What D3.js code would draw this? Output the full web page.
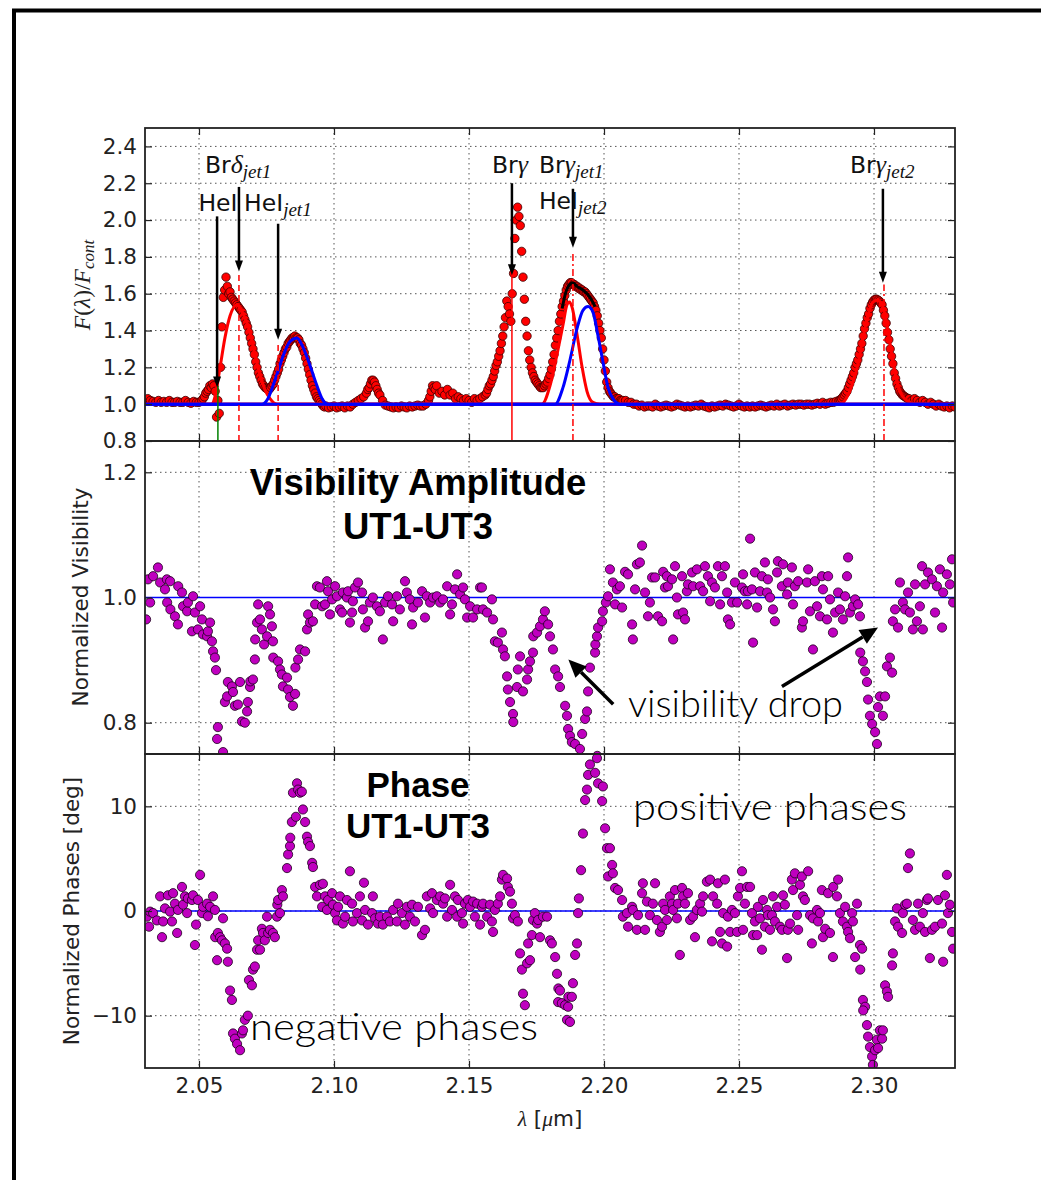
<!DOCTYPE html>
<html lang="en">
  <head>
    <meta charset="UTF-8" />
    <title>Spectrum, visibility and phase UT1-UT3</title>
    <script src="https://d3js.org/d3.v7.min.js"></script>
    <style>
      body { margin: 0; background: #fff; }
    </style>
  </head>
  <body>
    <script>
      // ---- data ----
      // normalised flux F(lambda)/F_cont : [lambda (um), flux]
      var specPoints = [
        [2.030,1.02],[2.031,1.03],[2.032,1.02],[2.033,1.015],[2.034,1.01],[2.035,1.02],[2.036,1.01],[2.037,1.015],[2.038,1.01],[2.039,1.02],[2.040,1.01],[2.041,1.01],[2.042,1.015],[2.043,1.01],[2.044,1.01],[2.045,1.02],[2.046,1.01],[2.047,1.005],[2.048,1.015],[2.049,1.01],[2.050,1.01],[2.051,1.02],
        [2.0515,1.03],[2.0520,1.04],[2.0525,1.06],[2.0530,1.07],[2.0535,1.08],[2.0540,1.10],[2.0545,1.09],[2.0550,1.11],[2.0555,1.10],[2.0560,1.07],[2.0565,0.93],[2.0570,1.02],[2.0575,0.95],[2.0580,1.20],[2.0585,1.42],[2.0590,1.58],[2.0595,1.62],[2.0600,1.69],[2.0605,1.64],[2.0610,1.60],[2.0615,1.61],[2.0620,1.58],[2.0625,1.57],[2.0630,1.56],[2.0635,1.55],[2.0640,1.54],[2.0645,1.53],[2.0650,1.52],[2.0655,1.51],[2.0660,1.50],[2.0665,1.48],[2.0670,1.46],[2.0675,1.44],[2.0680,1.42],[2.0685,1.39],[2.0690,1.36],[2.0695,1.33],[2.0700,1.30],[2.0705,1.27],[2.0710,1.23],[2.0715,1.20],[2.0720,1.17],[2.0725,1.15],[2.0730,1.13],[2.0735,1.11],[2.0740,1.10],[2.0745,1.09],[2.0750,1.085],[2.0755,1.08],[2.0760,1.08],[2.0765,1.09],[2.0770,1.10],[2.0775,1.11],[2.0780,1.13],[2.0785,1.15],[2.0790,1.17],[2.0795,1.19],[2.0800,1.22],[2.0805,1.24],[2.0810,1.26],[2.0815,1.28],[2.0820,1.30],[2.0825,1.31],[2.0830,1.33],[2.0835,1.34],[2.0840,1.35],[2.0845,1.36],[2.0850,1.36],[2.0855,1.37],[2.0860,1.36],[2.0865,1.36],[2.0870,1.35],[2.0875,1.33],[2.0880,1.32],[2.0885,1.30],[2.0890,1.28],[2.0895,1.25],[2.0900,1.22],[2.0905,1.19],[2.0910,1.16],[2.0915,1.13],[2.0920,1.10],[2.0925,1.08],[2.0930,1.06],[2.0935,1.04],[2.0940,1.03],[2.0945,1.02],[2.0950,1.01],[2.0955,1.00],[2.0960,0.99],[2.0965,0.985],[2.0970,0.99],
        [2.098,0.98],[2.099,0.985],[2.100,0.99],[2.101,0.98],[2.102,0.985],[2.103,0.99],[2.104,0.98],[2.105,0.99],[2.106,0.985],[2.107,1.00],[2.108,1.01],[2.109,1.02],[2.110,1.03],[2.111,1.04],[2.112,1.06],[2.1125,1.08],[2.113,1.09],[2.1135,1.11],[2.114,1.13],[2.1145,1.13],[2.115,1.12],[2.1155,1.10],[2.116,1.08],[2.1165,1.06],[2.117,1.05],[2.118,1.02],[2.119,0.995],[2.120,0.99],[2.121,0.985],[2.122,0.98],[2.123,0.985],[2.124,0.98],[2.125,0.99],[2.126,0.985],[2.127,0.98],[2.128,0.99],[2.129,0.985],[2.130,0.99],[2.131,0.995],[2.132,0.99],[2.133,0.99],[2.134,1.00],[2.135,1.02],[2.1355,1.04],[2.136,1.07],[2.1365,1.10],[2.137,1.09],[2.1375,1.08],[2.138,1.10],[2.139,1.06],[2.140,1.07],[2.141,1.05],[2.142,1.08],[2.143,1.05],[2.144,1.06],[2.145,1.03],[2.146,1.04],[2.147,1.03],[2.148,1.02],[2.149,1.03],[2.150,1.02],[2.151,1.01],[2.152,1.03],[2.153,1.02],[2.154,1.03],[2.155,1.04],[2.156,1.05],
        [2.1565,1.06],[2.1570,1.08],[2.1575,1.10],[2.1580,1.11],[2.1585,1.13],[2.1590,1.15],[2.1595,1.18],[2.1600,1.21],[2.1605,1.23],[2.1610,1.26],[2.1615,1.29],[2.1620,1.33],[2.1625,1.37],[2.1630,1.42],[2.1635,1.47],[2.1640,1.56],[2.1645,1.53],[2.1650,1.49],[2.1655,1.45],[2.1660,1.60],[2.1665,1.71],[2.1670,1.90],[2.1675,2.00],[2.1680,2.07],[2.1685,2.02],[2.1690,1.97],[2.1695,1.83],[2.1700,1.69],[2.1705,1.57],[2.1710,1.45],[2.1715,1.37],[2.1720,1.29],[2.1725,1.24],[2.1730,1.20],[2.1735,1.17],[2.1740,1.15],[2.1745,1.13],[2.1750,1.12],[2.1755,1.11],[2.1760,1.10],[2.1765,1.09],[2.1770,1.09],[2.1775,1.09],[2.1780,1.10],[2.1785,1.11],[2.1790,1.12],[2.1795,1.14],[2.1800,1.16],[2.1805,1.19],[2.1810,1.23],[2.1815,1.27],[2.1820,1.32],[2.1825,1.36],[2.1830,1.40],[2.1835,1.45],[2.1840,1.49],[2.1845,1.53],[2.1850,1.56],[2.1855,1.59],[2.1860,1.62],[2.1865,1.64],[2.1870,1.65],[2.1875,1.66],[2.1880,1.66],[2.1885,1.65],[2.1890,1.65],[2.1895,1.64],[2.1900,1.64],[2.1905,1.63],[2.1910,1.63],[2.1915,1.62],[2.1920,1.62],[2.1925,1.61],[2.1930,1.61],[2.1935,1.60],[2.1940,1.59],[2.1945,1.58],[2.1950,1.57],[2.1955,1.56],[2.1960,1.55],[2.1965,1.53],[2.1970,1.51],[2.1975,1.48],[2.1980,1.44],[2.1985,1.40],[2.1990,1.36],[2.1995,1.30],[2.2000,1.24],[2.2005,1.18],[2.2010,1.12],[2.2015,1.09],[2.2020,1.07],[2.2025,1.06],[2.2030,1.05],[2.2035,1.04],[2.2040,1.04],[2.2045,1.03],[2.2050,1.03],[2.2055,1.03],[2.2060,1.02],[2.2065,1.02],[2.2070,1.02],
        [2.208,1.02],[2.209,1.01],[2.210,1.01],[2.211,1.00],[2.212,1.00],[2.213,0.99],[2.214,0.995],[2.215,0.985],[2.216,0.99],[2.217,0.99],[2.218,0.985],[2.219,1.00],[2.220,0.99],[2.221,0.985],[2.222,0.99],[2.223,0.995],[2.224,0.99],[2.225,0.985],[2.226,0.99],[2.227,1.00],[2.228,0.995],[2.229,0.99],[2.230,0.985],[2.231,0.99],[2.232,0.985],[2.233,0.99],[2.234,0.995],[2.235,0.99],[2.236,1.00],[2.237,0.99],[2.238,0.985],[2.239,0.98],[2.240,0.99],[2.241,0.985],[2.242,0.99],[2.243,0.995],[2.244,0.99],[2.245,1.00],[2.246,0.995],[2.247,0.99],[2.248,0.985],[2.249,0.99],[2.250,1.00],[2.251,0.99],[2.252,0.985],[2.253,0.99],[2.254,0.985],[2.255,0.99],[2.256,0.985],[2.257,0.99],[2.258,0.995],[2.259,0.99],[2.260,0.985],[2.261,0.99],[2.262,0.995],[2.263,0.99],[2.264,1.00],[2.265,0.99],[2.266,0.995],[2.267,1.00],[2.268,0.99],[2.269,0.995],[2.270,1.00],[2.271,0.995],[2.272,1.00],[2.273,1.00],[2.274,0.995],[2.275,1.00],[2.276,1.00],[2.277,0.995],[2.278,1.00],[2.279,1.005],[2.280,1.00],[2.281,1.01],[2.282,1.00],[2.283,1.005],[2.284,1.01],[2.285,1.01],[2.286,1.015],[2.287,1.02],
        [2.2875,1.025],[2.2880,1.03],[2.2885,1.04],[2.2890,1.05],[2.2895,1.06],[2.2900,1.07],[2.2905,1.09],[2.2910,1.11],[2.2915,1.13],[2.2920,1.15],[2.2925,1.17],[2.2930,1.20],[2.2935,1.22],[2.2940,1.24],[2.2945,1.27],[2.2950,1.30],[2.2955,1.33],[2.2960,1.37],[2.2965,1.41],[2.2970,1.44],[2.2975,1.47],[2.2980,1.49],[2.2985,1.52],[2.2990,1.54],[2.2995,1.555],[2.3000,1.565],[2.3005,1.57],[2.3010,1.57],[2.3015,1.565],[2.3020,1.56],[2.3025,1.55],[2.3030,1.54],[2.3035,1.51],[2.3040,1.48],[2.3045,1.44],[2.3050,1.39],[2.3055,1.35],[2.3060,1.30],[2.3065,1.26],[2.3070,1.22],[2.3075,1.17],[2.3080,1.14],[2.3085,1.11],[2.3090,1.09],[2.3095,1.07],[2.3100,1.06],[2.3105,1.05],[2.3110,1.045],[2.3115,1.04],[2.3120,1.035],[2.3125,1.03],
        [2.313,1.03],[2.314,1.02],[2.315,1.03],[2.316,1.02],[2.317,1.01],[2.318,1.02],[2.319,1.01],[2.320,1.00],[2.321,1.01],[2.322,1.00],[2.323,0.99],[2.324,1.00],[2.325,0.99],[2.326,0.985],[2.327,0.99],[2.328,0.98],[2.329,0.99],[2.330,0.985]
      ];

      // fitted line components
      var fitBrdJet1 = [[2.030,1.0],[2.0548,1.0],[2.0559,1.04],[2.0578,1.2],[2.0596,1.36],[2.0615,1.48],[2.0641,1.54],[2.0670,1.47],[2.0689,1.39],[2.0707,1.27],[2.0726,1.16],[2.0744,1.08],[2.0763,1.03],[2.0789,1.0],[2.330,1.0]];
      var fitBrgJet1 = [[2.030,1.0],[2.1770,1.0],[2.1800,1.1],[2.1826,1.27],[2.1848,1.43],[2.1863,1.54],[2.1872,1.555],[2.1881,1.53],[2.1900,1.38],[2.1919,1.2],[2.1937,1.07],[2.1959,1.01],[2.1985,1.0],[2.330,1.0]];
      var fitBrgJet2 = [[2.030,1.0],[2.2874,1.0],[2.2904,1.05],[2.2922,1.12],[2.2941,1.22],[2.2959,1.36],[2.2978,1.48],[2.2993,1.55],[2.3011,1.565],[2.3030,1.54],[2.3044,1.46],[2.3059,1.33],[2.3074,1.2],[2.3089,1.1],[2.3107,1.04],[2.3133,1.01],[2.3163,1.0],[2.330,1.0]];
      var fitHeIJet1 = [[2.030,1.0],[2.0733,1.0],[2.0755,1.03],[2.0774,1.1],[2.0793,1.18],[2.0811,1.26],[2.0837,1.34],[2.0863,1.36],[2.0885,1.31],[2.0911,1.21],[2.0937,1.1],[2.0956,1.03],[2.0978,1.0],[2.330,1.0]];
      var fitHeIJet2 = [[2.030,1.0],[2.1819,1.0],[2.1848,1.09],[2.1874,1.24],[2.1900,1.41],[2.1922,1.51],[2.1941,1.53],[2.1959,1.5],[2.1978,1.37],[2.1996,1.23],[2.2015,1.09],[2.2033,1.03],[2.2059,1.0],[2.330,1.0]];
      var fitTotal = [[2.1845,1.52],[2.1859,1.61],[2.1870,1.645],[2.1885,1.66],[2.1900,1.64],[2.1922,1.62],[2.1948,1.58],[2.1967,1.53]];

      // normalised visibility UT1-UT3 : [lambda, V]
      var visPoints = [
        [2.0304,0.965],[2.0311,1.029],[2.0319,0.992],[2.0330,1.034],[2.0348,1.048],[2.0356,1.024],[2.0374,1.013],[2.0381,1.029],[2.0393,1.026],[2.0382,0.992],[2.0394,0.981],[2.0411,0.970],[2.0422,0.957],[2.0423,1.018],[2.0437,1.008],[2.0441,0.986],[2.0456,0.978],[2.0459,0.992],[2.0474,0.946],[2.0478,1.002],[2.0485,0.976],[2.0496,0.949],[2.0504,0.986],[2.0511,0.965],[2.0515,0.941],[2.0530,0.938],[2.0533,0.946],[2.0541,0.960],[2.0548,0.930],[2.0552,0.914],[2.0559,0.904],[2.0563,0.884],[2.0570,0.793],[2.0567,0.774],[2.0589,0.753],[2.0596,0.833],[2.0604,0.842],[2.0607,0.865],[2.0622,0.858],[2.0626,0.849],[2.0633,0.827],[2.0644,0.829],[2.0652,0.865],[2.0659,0.802],[2.0670,0.800],[2.0678,0.818],[2.0681,0.833],[2.0689,0.857],[2.0690,0.866],[2.0700,0.869],[2.0707,0.901],[2.0708,0.933],[2.0715,0.960],[2.0719,0.989],[2.0726,0.965],[2.0733,0.949],[2.0741,0.925],[2.0752,0.938],[2.0756,0.986],[2.0763,0.973],[2.0770,0.954],[2.0774,0.930],[2.0775,0.904],[2.0793,0.898],[2.0800,0.885],[2.0807,0.877],[2.0811,0.858],[2.0826,0.872],[2.0830,0.853],[2.0837,0.841],[2.0848,0.827],[2.0856,0.846],[2.0857,0.888],[2.0867,0.901],[2.0874,0.917],[2.0893,0.914],[2.0900,0.949],[2.0904,0.973],[2.0911,0.960],[2.0922,0.962],[2.0930,0.989],[2.0937,1.018],[2.0948,1.016],[2.0956,0.986],[2.0967,0.989],[2.0974,1.026],[2.0978,1.010],[2.0985,0.973],[2.0993,0.997],[2.1004,1.018],[2.1011,1.002],[2.1022,0.981],[2.1030,0.976],[2.1033,1.008],[2.1048,1.000],[2.1052,1.010],[2.1059,0.960],[2.1067,0.976],[2.1070,0.994],[2.1078,1.016],[2.1089,1.024],[2.1104,1.008],[2.1107,0.981],[2.1115,0.952],[2.1126,0.962],[2.1133,0.992],[2.1144,1.000],[2.1159,0.986],[2.1170,0.978],[2.1181,0.933],[2.1189,0.992],[2.1200,1.002],[2.1215,0.989],[2.1219,0.962],[2.1233,1.002],[2.1244,0.981],[2.1263,1.026],[2.1270,1.008],[2.1281,0.997],[2.1289,0.957],[2.1293,0.984],[2.1311,0.992],[2.1326,1.010],[2.1337,0.968],[2.1344,1.002],[2.1356,0.992],[2.1367,1.000],[2.1381,1.002],[2.1393,0.992],[2.1404,0.997],[2.1419,1.018],[2.1430,0.973],[2.1437,0.989],[2.1448,1.013],[2.1456,1.037],[2.1467,1.005],[2.1478,1.016],[2.1485,0.997],[2.1493,0.968],[2.1504,0.986],[2.1515,0.968],[2.1530,0.981],[2.1541,1.016],
        [2.1548,1.016],[2.1552,0.981],[2.1567,0.976],[2.1585,0.997],[2.1589,0.965],[2.1596,0.930],[2.1607,0.928],[2.1622,0.944],[2.1626,0.917],[2.1633,0.906],[2.1641,0.874],[2.1644,0.853],[2.1652,0.833],[2.1663,0.814],[2.1664,0.801],[2.1678,0.857],[2.1681,0.885],[2.1689,0.906],[2.1700,0.850],[2.1715,0.869],[2.1719,0.885],[2.1726,0.898],[2.1737,0.912],[2.1738,0.938],[2.1752,0.944],[2.1763,0.954],[2.1774,0.965],[2.1781,0.978],[2.1793,0.957],[2.1800,0.938],[2.1811,0.917],[2.1819,0.885],[2.1830,0.874],[2.1837,0.857],[2.1856,0.827],[2.1863,0.811],[2.1867,0.790],[2.1874,0.779],[2.1881,0.769],[2.1893,0.766],[2.1911,0.758],[2.1919,0.782],[2.1930,0.806],[2.1937,0.818],[2.1941,0.850],[2.1948,0.888],[2.1967,0.912],[2.1968,0.925],[2.1974,0.938],[2.1978,0.952],[2.1975,0.747],[2.1993,0.962],[2.1996,0.978],[2.2007,0.992],[2.2015,1.002],[2.2022,1.045],[2.2033,1.024],[2.2041,0.989],[2.2048,1.013],[2.2059,1.018],[2.2067,0.984],[2.2078,1.041],[2.2089,1.037],[2.2104,0.957],[2.2107,0.933],[2.2115,1.013],[2.2122,1.053],[2.2133,1.056],[2.2141,1.083],[2.2152,1.008],[2.2163,0.970],[2.2170,0.992],[2.2178,1.032],[2.2189,1.032],[2.2200,0.970],[2.2215,0.962],[2.2219,1.041],[2.2226,1.016],[2.2233,1.034],[2.2237,1.018],[2.2252,1.029],[2.2256,0.933],[2.2263,1.050],[2.2270,1.000],[2.2274,0.973],[2.2289,1.034],[2.2293,0.976],[2.2300,0.965],[2.2307,1.010],[2.2311,1.021],[2.2326,1.040],[2.2330,1.018],[2.2344,1.045],[2.2356,1.018],[2.2367,1.010],[2.2374,1.050],[2.2385,1.034],[2.2393,0.994],[2.2400,1.024],[2.2411,1.016],[2.2422,1.050],[2.2430,0.989],[2.2437,1.034],[2.2448,1.050],[2.2456,1.008],[2.2459,0.965],[2.2467,0.957],[2.2474,0.992],[2.2485,1.024],[2.2493,0.992],[2.2511,1.016],[2.2515,1.037],[2.2522,1.010],[2.2530,0.989],[2.2533,1.010],[2.2541,1.094],[2.2548,1.013],[2.2552,0.928],[2.2559,1.040],[2.2567,0.984],[2.2578,1.010],[2.2585,1.034],[2.2596,1.056],[2.2604,1.008],[2.2607,1.029],[2.2615,1.000],[2.2626,0.981],[2.2633,0.962],[2.2641,1.040],[2.2644,1.058],[2.2659,1.018],[2.2663,1.053],[2.2678,1.005],[2.2681,1.024],[2.2696,1.048],[2.2700,0.989],[2.2707,1.018],[2.2719,1.026],[2.2733,0.952],[2.2737,0.962],[2.2752,1.024],[2.2756,1.045],[2.2763,0.978],[2.2774,0.917],[2.2781,1.026],[2.2789,0.986],[2.2800,0.970],[2.2807,1.034],[2.2811,1.013],[2.2826,0.965],[2.2830,1.034],[2.2837,0.997],[2.2848,0.944],[2.2856,0.976],[2.2867,1.008],[2.2874,0.981],[2.2885,0.965],[2.2893,1.002],[2.2900,1.034],[2.2904,1.064],[2.2911,0.976],[2.2922,0.986],[2.2930,0.997],[2.2941,0.989],[2.2948,0.970],[2.2949,0.912],[2.2959,0.898],[2.2967,0.882],[2.2974,0.865],[2.2978,0.837],[2.2985,0.811],[2.2993,0.798],[2.3004,0.785],[2.3011,0.766],[2.3015,0.825],[2.3022,0.842],[2.3033,0.811],[2.3041,0.842],[2.3048,0.890],[2.3059,0.904],[2.3067,0.880],[2.3070,0.962],[2.3078,0.981],[2.3089,0.952],[2.3096,1.024],[2.3107,0.992],[2.3115,0.981],[2.3126,1.008],[2.3133,0.976],[2.3144,0.949],[2.3152,1.021],[2.3159,0.962],[2.3170,0.986],[2.3178,1.050],[2.3181,0.949],[2.3189,1.021],[2.3200,1.040],[2.3215,1.029],[2.3226,0.976],[2.3233,1.018],[2.3244,1.045],[2.3252,0.952],[2.3256,1.008],[2.3270,1.037],[2.3281,1.021],[2.3289,1.061],[2.3293,0.992]
      ];

      // normalised differential phase UT1-UT3 : [lambda, deg]
      var phasePoints = [
        [2.0307,-0.54],[2.0315,-1.5],[2.0319,-0.06],[2.0330,-0.2],[2.0344,-0.9],[2.0356,1.4],[2.0363,-2.5],[2.0367,-1.0],[2.0374,0.25],[2.0385,1.5],[2.0393,-0.06],[2.0400,-1.0],[2.0404,1.7],[2.0411,0.7],[2.0419,-2.1],[2.0422,0.1],[2.0437,2.3],[2.0441,0.6],[2.0448,1.4],[2.0456,-0.2],[2.0459,1.2],[2.0474,1.05],[2.0478,1.5],[2.0485,-3.25],[2.0489,-1.3],[2.0496,1.05],[2.0504,3.45],[2.0511,-0.2],[2.0515,0.4],[2.0530,0.7],[2.0533,-0.5],[2.0541,0.4],[2.0552,1.4],[2.0559,0.1],[2.0560,-2.5],[2.0567,-4.7],[2.0570,-2.1],[2.0578,-2.5],[2.0585,-2.8],[2.0589,-0.7],[2.0596,-3.1],[2.0604,-3.6],[2.0607,-4.85],[2.0615,-7.6],[2.0622,-8.5],[2.0626,-11.7],[2.0633,-12.2],[2.0641,-12.7],[2.0652,-13.3],[2.0659,-11.7],[2.0663,-11.4],[2.0670,-10.4],[2.0681,-10.0],[2.0685,-6.6],[2.0696,-7.1],[2.0700,-5.6],[2.0707,-5.3],[2.0715,-3.7],[2.0719,-2.8],[2.0726,-3.7],[2.0733,-1.7],[2.0737,-2.1],[2.0744,-2.8],[2.0752,-0.54],[2.0756,-2.1],[2.0763,-1.8],[2.0774,-2.1],[2.0781,-2.5],[2.0789,-0.54],[2.0790,0.6],[2.0793,1.05],[2.0800,-0.2],[2.0807,2.0],[2.0811,1.4],[2.0826,4.1],[2.0830,5.4],[2.0837,6.2],[2.0838,7.0],[2.0844,8.5],[2.0848,11.3],[2.0859,9.0],[2.0863,12.2],[2.0867,11.6],[2.0874,11.3],[2.0881,11.4],[2.0885,9.7],[2.0893,8.5],[2.0900,7.1],[2.0904,6.6],[2.0911,6.2],[2.0919,4.6],[2.0922,4.2],[2.0930,2.3],[2.0937,1.4],[2.0948,2.5],[2.0956,0.4],[2.0959,2.6],[2.0967,1.4],[2.0974,0.1],[2.0978,1.05],[2.0993,1.7],[2.0996,0.6],[2.1004,-0.2],[2.1011,-0.9],[2.1015,0.4],[2.1022,1.4],[2.1033,-1.2],[2.1041,-0.54],[2.1048,1.05],[2.1059,3.8],[2.1067,0.7],[2.1070,-1.0],[2.1085,-0.2],[2.1096,1.4],[2.1104,-0.9],[2.1111,2.7],[2.1115,0.1],[2.1126,-1.3],[2.1141,-0.2],[2.1144,1.4],[2.1152,-0.7],[2.1163,-1.2],[2.1170,-0.54],[2.1181,-1.3],[2.1196,-0.54],[2.1207,-1.0],[2.1219,0.1],[2.1233,-1.0],[2.1237,0.7],[2.1252,-0.2],[2.1263,-1.3],[2.1270,0.4],[2.1281,-0.54],[2.1289,0.6],[2.1300,-1.0],[2.1311,0.4],[2.1326,-2.3],[2.1337,-1.8],[2.1344,1.4],[2.1356,0.25],[2.1363,1.7],[2.1367,-0.2],[2.1381,1.05],[2.1393,1.4],[2.1404,0.7],[2.1411,1.2],[2.1419,-0.54],[2.1430,2.5],[2.1437,0.1],[2.1448,1.4],[2.1456,-0.54],[2.1459,1.05],[2.1474,-0.2],[2.1478,-1.2],[2.1485,0.7],[2.1496,1.05],[2.1504,0.4],[2.1515,0.9],[2.1522,-0.54],[2.1530,0.7],[2.1541,-1.3],[2.1548,0.4],[2.1552,0.7],[2.1567,-0.54],[2.1578,0.6],[2.1585,-1.0],[2.1589,-2.0],[2.1596,0.1],[2.1607,0.7],[2.1615,1.4],[2.1622,3.0],[2.1626,3.45],[2.1641,3.1],[2.1644,2.3],[2.1652,1.85],[2.1659,0.7],[2.1663,-0.7],[2.1670,-0.4],[2.1681,-1.0],[2.1689,-4.05],[2.1696,-5.6],[2.1700,-7.9],[2.1707,-9.0],[2.1715,-5.0],[2.1719,-3.1],[2.1726,-4.7],[2.1733,-2.3],[2.1737,-0.86],[2.1744,-0.2],[2.1752,-1.2],[2.1756,-0.86],[2.1763,-2.5],[2.1774,-0.54],[2.1789,-0.54],[2.1800,-2.8],[2.1807,-3.1],[2.1819,-4.4],[2.1826,-6.0],[2.1830,-8.7],[2.1831,-7.4],
        [2.1837,-7.6],[2.1844,-8.8],[2.1856,-9.0],[2.1867,-9.15],[2.1863,-10.4],[2.1874,-10.6],[2.1868,-8.2],[2.1881,-8.2],[2.1885,-6.9],[2.1893,-4.2],[2.1900,-3.1],[2.1904,-0.2],[2.1907,1.2],[2.1915,3.9],[2.1922,7.4],[2.1930,10.6],[2.1937,11.6],[2.1941,13.0],[2.1948,14.0],[2.1956,15.7],[2.1967,13.2],[2.1974,14.6],[2.1978,12.2],[2.1993,10.5],[2.1996,11.9],[2.2004,7.9],[2.2011,6.0],[2.2015,3.3],[2.2022,6.0],[2.2030,4.4],[2.2033,3.6],[2.2041,2.2],[2.2052,2.0],[2.2067,1.05],[2.2070,-0.54],[2.2085,-0.2],[2.2089,-1.5],[2.2104,0.4],[2.2107,0.1],[2.2122,-1.8],[2.2126,-0.4],[2.2141,1.7],[2.2144,2.65],[2.2152,-1.8],[2.2159,0.9],[2.2170,-0.4],[2.2181,0.7],[2.2189,2.65],[2.2196,-0.86],[2.2207,-2.0],[2.2215,-1.5],[2.2219,0.7],[2.2226,0.1],[2.2233,-0.86],[2.2244,1.4],[2.2252,0.7],[2.2256,0.1],[2.2263,2.0],[2.2270,-0.7],[2.2274,0.7],[2.2281,-4.2],[2.2289,2.2],[2.2293,1.4],[2.2300,0.7],[2.2311,1.7],[2.2319,-0.86],[2.2330,-0.54],[2.2337,-2.5],[2.2344,0.1],[2.2356,0.7],[2.2363,-0.06],[2.2367,1.4],[2.2381,2.8],[2.2393,3.0],[2.2400,-2.9],[2.2404,1.4],[2.2419,0.7],[2.2422,2.65],[2.2430,-2.0],[2.2437,-3.1],[2.2441,-0.2],[2.2448,3.0],[2.2456,-3.4],[2.2459,-0.54],[2.2467,-2.0],[2.2474,0.1],[2.2485,-0.2],[2.2493,-2.0],[2.2496,1.4],[2.2504,2.2],[2.2511,3.8],[2.2515,-1.8],[2.2522,0.7],[2.2530,2.3],[2.2541,2.3],[2.2548,-0.2],[2.2552,-2.3],[2.2559,-1.0],[2.2567,-2.3],[2.2570,0.4],[2.2578,-0.7],[2.2585,-3.7],[2.2589,1.05],[2.2596,-1.5],[2.2604,0.1],[2.2607,-0.4],[2.2615,-1.8],[2.2622,-0.4],[2.2626,1.4],[2.2633,-1.0],[2.2641,0.4],[2.2652,-1.5],[2.2659,-1.8],[2.2663,1.5],[2.2670,0.6],[2.2678,-4.5],[2.2681,-1.8],[2.2689,-1.2],[2.2696,3.0],[2.2700,2.0],[2.2707,3.6],[2.2715,-0.4],[2.2719,-1.8],[2.2726,2.5],[2.2733,3.3],[2.2737,1.4],[2.2744,1.05],[2.2756,3.8],[2.2763,-0.4],[2.2770,-3.1],[2.2774,-0.7],[2.2789,0.1],[2.2793,-1.0],[2.2800,-0.2],[2.2807,2.0],[2.2811,-2.5],[2.2819,-1.7],[2.2830,1.7],[2.2837,-2.1],[2.2848,-4.4],[2.2849,2.3],[2.2863,1.4],[2.2867,3.0],[2.2874,-0.2],[2.2885,-1.0],[2.2893,0.4],[2.2900,-1.5],[2.2904,-2.0],[2.2911,-2.6],[2.2919,-0.2],[2.2922,-1.0],[2.2930,-4.4],[2.2937,0.7],[2.2948,-3.25],[2.2956,-3.6],[2.2949,-5.6],[2.2959,-8.5],[2.2967,-9.15],[2.2960,-9.5],[2.2974,-10.9],[2.2978,-12.0],[2.2985,-13.0],[2.2993,-13.9],[2.2996,-14.7],[2.3004,-13.3],[2.3011,-12.3],[2.3015,-13.1],[2.3022,-11.4],[2.3030,-12.2],[2.3033,-11.4],[2.3041,-7.1],[2.3048,-7.7],[2.3052,-8.2],[2.3067,-5.2],[2.3070,-4.05],[2.3078,-1.0],[2.3085,0.25],[2.3089,-1.5],[2.3104,-2.1],[2.3107,-0.2],[2.3115,0.6],[2.3122,0.7],[2.3126,4.1],[2.3133,5.5],[2.3144,-0.86],[2.3152,-1.8],[2.3163,0.7],[2.3170,-1.5],[2.3181,-0.2],[2.3189,-2.0],[2.3196,1.05],[2.3200,1.2],[2.3207,-4.5],[2.3215,-1.8],[2.3226,-1.5],[2.3237,1.05],[2.3252,-1.2],[2.3256,-4.85],[2.3263,1.5],[2.3270,3.45],[2.3274,-0.2],[2.3281,0.6],[2.3289,-2.0],[2.3293,-3.6]
      ];

      var xTickValues = [2.05, 2.10, 2.15, 2.20, 2.25, 2.30];
      var fluxTickValues = [0.8, 1.0, 1.2, 1.4, 1.6, 1.8, 2.0, 2.2, 2.4];
      var visTickValues = [0.8, 1.0, 1.2];
      var phaseTickValues = [-10, 0, 10];

      // line identifications: rest / jet wavelengths and arrow extents
      var lineMarks = [
        { lam: 2.0570, top: 1.10, color: "#008000", dash: null },
        { lam: 2.0648, top: 1.71, color: "#ff0000", dash: "6,4" },
        { lam: 2.0793, top: 1.33, color: "#ff0000", dash: "6,4" },
        { lam: 2.1659, top: 1.71, color: "#ff0000", dash: null },
        { lam: 2.1885, top: 1.83, color: "#ff0000", dash: "7,3,2,3" },
        { lam: 2.3037, top: 1.65, color: "#ff0000", dash: "7,3,2,3" }
      ];
      var lineArrows = [
        { lam: 2.0567, from: 2.02, to: 1.09 },
        { lam: 2.0648, from: 2.18, to: 1.72 },
        { lam: 2.0793, from: 1.98, to: 1.35 },
        { lam: 2.1659, from: 2.20, to: 1.70 },
        { lam: 2.1885, from: 2.17, to: 1.85 },
        { lam: 2.3033, from: 2.17, to: 1.66 }
      ];
      var lineLabels = [
        { main: "Br", greek: "\u03b4", sub: "jet1", lam: 2.0522, f: 2.254 },
        { main: "HeI", greek: "", sub: "", lam: 2.0498, f: 2.049 },
        { main: "HeI", greek: "", sub: "jet1", lam: 2.0667, f: 2.049 },
        { main: "Br", greek: "\u03b3", sub: "", lam: 2.1585, f: 2.254 },
        { main: "Br", greek: "\u03b3", sub: "jet1", lam: 2.1759, f: 2.254 },
        { main: "HeI", greek: "", sub: "jet2", lam: 2.1759, f: 2.060 },
        { main: "Br", greek: "\u03b3", sub: "jet2", lam: 2.2911, f: 2.254 }
      ];

      // ---- layout ----
      var width = 1041, height = 1180;
      var left = 145, right = 955;

      var svg = d3.select("body").append("svg")
        .attr("width", width).attr("height", height)
        .style("display", "block");

      // page frame (only left and top edges are inside the picture)
      svg.append("path").attr("d", "M14,1180V10.5H1041")
        .attr("fill", "none").attr("stroke", "#000").attr("stroke-width", 4);

      var x = d3.scaleLinear().domain([2.03, 2.33]).range([left, right]);
      var yFlux = d3.scaleLinear().domain([0.8, 2.5]).range([441, 128]);
      var yVis = d3.scaleLinear().domain([0.75, 1.25]).range([754, 441]);
      var yPhase = d3.scaleLinear().domain([-15, 15]).range([1068, 754]);

      var defs = svg.append("defs");
      function clip(id, y) {
        defs.append("clipPath").attr("id", id).append("rect")
          .attr("x", left).attr("y", y.range()[1])
          .attr("width", right - left).attr("height", y.range()[0] - y.range()[1]);
        return "url(#" + id + ")";
      }

      function drawGrid(y, yTicks) {
        var top = y.range()[1], bottom = y.range()[0];
        var g = svg.append("g").attr("stroke", "#555").attr("stroke-width", 1)
          .attr("stroke-dasharray", "1.5,3.5");
        g.selectAll(null).data(xTickValues).enter().append("line")
          .attr("x1", function (d) { return x(d); }).attr("x2", function (d) { return x(d); })
          .attr("y1", top).attr("y2", bottom);
        g.selectAll(null).data(yTicks).enter().append("line")
          .attr("x1", left).attr("x2", right)
          .attr("y1", function (d) { return y(d); }).attr("y2", function (d) { return y(d); });
      }

      function drawAxes(y, yTicks, yFormat, showX) {
        var top = y.range()[1], bottom = y.range()[0];
        var none = function () { return ""; };
        function style(g) {
          g.select(".domain").remove();
          g.attr("font-family", "DejaVu Sans").attr("font-size", 21.5);
          g.selectAll(".tick line").attr("stroke", "#222").attr("stroke-width", 1.2);
          g.selectAll(".tick text").attr("fill", "#222");
        }
        svg.append("g").attr("transform", "translate(0," + bottom + ")")
          .call(d3.axisBottom(x).tickValues(xTickValues).tickSize(-7).tickPadding(10)
            .tickFormat(showX ? d3.format(".2f") : none))
          .call(style);
        svg.append("g").attr("transform", "translate(0," + top + ")")
          .call(d3.axisTop(x).tickValues(xTickValues).tickSize(-7).tickFormat(none))
          .call(style);
        svg.append("g").attr("transform", "translate(" + left + ",0)")
          .call(d3.axisLeft(y).tickValues(yTicks).tickSize(-7).tickPadding(8).tickFormat(yFormat))
          .call(style);
        svg.append("g").attr("transform", "translate(" + right + ",0)")
          .call(d3.axisRight(y).tickValues(yTicks).tickSize(-7).tickFormat(none))
          .call(style);
        svg.append("rect").attr("x", left).attr("y", top)
          .attr("width", right - left).attr("height", bottom - top)
          .attr("fill", "none").attr("stroke", "#222").attr("stroke-width", 1.8);
      }

      function arrowHead(g, tipX, tipY, angle, len, half) {
        var c = Math.cos(angle), s = Math.sin(angle);
        var bx = tipX - c * len, by = tipY - s * len;
        g.append("path")
          .attr("d", "M" + tipX + "," + tipY + "L" + (bx - s * half) + "," + (by + c * half) +
            "L" + (bx + s * half) + "," + (by - c * half) + "Z")
          .attr("fill", "#000");
        return [bx, by];
      }

      // ---- panel 1 : spectrum ----
      drawGrid(yFlux, fluxTickValues);
      var gFlux = svg.append("g").attr("clip-path", clip("clipFlux", yFlux));

      gFlux.selectAll("circle").data(specPoints).enter().append("circle")
        .attr("cx", function (d) { return x(d[0]); })
        .attr("cy", function (d) { return yFlux(d[1]); })
        .attr("r", 4.2)
        .attr("fill", "#ff0000").attr("stroke", "#3a0000").attr("stroke-width", 0.8);

      var fitLine = d3.line()
        .x(function (d) { return x(d[0]); })
        .y(function (d) { return yFlux(d[1]); })
        .curve(d3.curveMonotoneX);

      [fitBrdJet1, fitBrgJet1, fitBrgJet2].forEach(function (c) {
        gFlux.append("path").attr("d", fitLine(c)).attr("fill", "none")
          .attr("stroke", "#ff0000").attr("stroke-width", 3);
      });
      gFlux.append("path").attr("d", fitLine(fitTotal)).attr("fill", "none")
        .attr("stroke", "#000").attr("stroke-width", 3);
      [fitHeIJet1, fitHeIJet2].forEach(function (c) {
        gFlux.append("path").attr("d", fitLine(c)).attr("fill", "none")
          .attr("stroke", "#0000ff").attr("stroke-width", 3);
      });

      gFlux.selectAll(".mark").data(lineMarks).enter().append("line")
        .attr("x1", function (d) { return x(d.lam); }).attr("x2", function (d) { return x(d.lam); })
        .attr("y1", yFlux(0.8)).attr("y2", function (d) { return yFlux(d.top); })
        .attr("stroke", function (d) { return d.color; }).attr("stroke-width", 1.5)
        .attr("stroke-dasharray", function (d) { return d.dash; });

      var gArr = svg.append("g");
      lineArrows.forEach(function (a) {
        var ax = x(a.lam), y0 = yFlux(a.from), y1 = yFlux(a.to);
        var base = arrowHead(gArr, ax, y1, Math.PI / 2, 11, 4);
        gArr.append("line").attr("x1", ax).attr("x2", ax).attr("y1", y0).attr("y2", base[1] + 1)
          .attr("stroke", "#000").attr("stroke-width", 2.5);
      });

      var gLab = svg.append("g");
      lineLabels.forEach(function (l) {
        var t = gLab.append("text").attr("x", x(l.lam)).attr("y", yFlux(l.f))
          .attr("fill", "#111").attr("font-size", 23.5);
        t.append("tspan").attr("font-family", "DejaVu Sans").text(l.main);
        if (l.greek) {
          t.append("tspan").attr("font-family", "Liberation Serif").attr("font-style", "italic")
            .attr("font-size", 26).text(l.greek);
        }
        if (l.sub) {
          t.append("tspan").attr("font-family", "Liberation Serif").attr("font-style", "italic")
            .attr("font-size", 19).attr("dy", 5).text(l.sub);
        }
      });

      drawAxes(yFlux, fluxTickValues, d3.format(".1f"), false);

      // ---- panel 2 : visibility ----
      drawGrid(yVis, visTickValues);
      var gVis = svg.append("g").attr("clip-path", clip("clipVis", yVis));
      gVis.append("line").attr("x1", left).attr("x2", right)
        .attr("y1", yVis(1)).attr("y2", yVis(1))
        .attr("stroke", "#0000ff").attr("stroke-width", 1.5);
      gVis.selectAll("circle").data(visPoints).enter().append("circle")
        .attr("cx", function (d) { return x(d[0]); })
        .attr("cy", function (d) { return yVis(d[1]); })
        .attr("r", 4.6)
        .attr("fill", "#bf00bf").attr("stroke", "#1a001a").attr("stroke-width", 0.8);

      drawAxes(yVis, visTickValues, d3.format(".1f"), false);

      // ---- panel 3 : phase ----
      drawGrid(yPhase, phaseTickValues);
      var gPh = svg.append("g").attr("clip-path", clip("clipPhase", yPhase));
      gPh.append("line").attr("x1", left).attr("x2", right)
        .attr("y1", yPhase(0)).attr("y2", yPhase(0))
        .attr("stroke", "#0000ff").attr("stroke-width", 1.5);
      gPh.selectAll("circle").data(phasePoints).enter().append("circle")
        .attr("cx", function (d) { return x(d[0]); })
        .attr("cy", function (d) { return yPhase(d[1]); })
        .attr("r", 4.6)
        .attr("fill", "#bf00bf").attr("stroke", "#1a001a").attr("stroke-width", 0.8);

      drawAxes(yPhase, phaseTickValues, d3.format("d"), true);

      // ---- titles and notes ----
      function bold(txt, cx, by, size) {
        svg.append("text").attr("x", cx).attr("y", by).attr("text-anchor", "middle")
          .attr("font-family", "Liberation Sans, Arial, sans-serif").attr("font-weight", "bold")
          .attr("font-size", size).attr("fill", "#000").text(txt);
      }
      bold("Visibility Amplitude", 418, 495, 36.5);
      bold("UT1-UT3", 418, 539, 36.5);
      bold("Phase", 418, 797, 35);
      bold("UT1-UT3", 418, 838, 35);

      function light(txt, lx, by, len) {
        svg.append("text").attr("x", lx).attr("y", by)
          .attr("font-family", "Lato, Roboto, sans-serif")
          .attr("font-weight", 300)
          .attr("font-size", 37).attr("fill", "#000")
          .attr("textLength", len).attr("lengthAdjust", "spacingAndGlyphs").text(txt);
      }
      light("visibility drop", 628, 717, 215);
      light("positive phases", 633, 820, 274);
      light("negative phases", 250, 1040, 288);

      var gNote = svg.append("g");
      [[[2.2034, 0.8295], [2.1868, 0.901]], [[2.2659, 0.858], [2.3015, 0.952]]].forEach(function (a) {
        var x0 = x(a[0][0]), y0 = yVis(a[0][1]), x1 = x(a[1][0]), y1 = yVis(a[1][1]);
        var ang = Math.atan2(y1 - y0, x1 - x0);
        var base = arrowHead(gNote, x1, y1, ang, 18, 8);
        gNote.append("line").attr("x1", x0).attr("y1", y0).attr("x2", base[0]).attr("y2", base[1])
          .attr("stroke", "#000").attr("stroke-width", 3.5);
      });

      // ---- axis labels ----
      svg.append("text").attr("transform", "translate(90,285) rotate(-90)")
        .attr("text-anchor", "middle").attr("font-family", "Liberation Serif")
        .attr("font-style", "italic").attr("font-size", 23.5).attr("fill", "#222")
        .html("F<tspan font-style='normal'>(</tspan>\u03bb<tspan font-style='normal'>)/</tspan>F<tspan font-size='17' dy='4'>cont</tspan>");

      svg.append("text").attr("transform", "translate(88,597) rotate(-90)")
        .attr("text-anchor", "middle").attr("font-family", "DejaVu Sans")
        .attr("font-size", 21.5).attr("fill", "#222").text("Normalized Visibility");

      svg.append("text").attr("transform", "translate(79,911) rotate(-90)")
        .attr("text-anchor", "middle").attr("font-family", "DejaVu Sans")
        .attr("font-size", 21.5).attr("fill", "#222").text("Normalized Phases [deg]");

      svg.append("text").attr("x", 550).attr("y", 1126).attr("text-anchor", "middle")
        .attr("font-family", "DejaVu Sans").attr("font-size", 21.5).attr("fill", "#222")
        .html("<tspan font-family='Liberation Serif' font-style='italic'>\u03bb</tspan> [<tspan font-family='Liberation Serif' font-style='italic'>\u03bc</tspan>m]");
    </script>
  </body>
</html>
